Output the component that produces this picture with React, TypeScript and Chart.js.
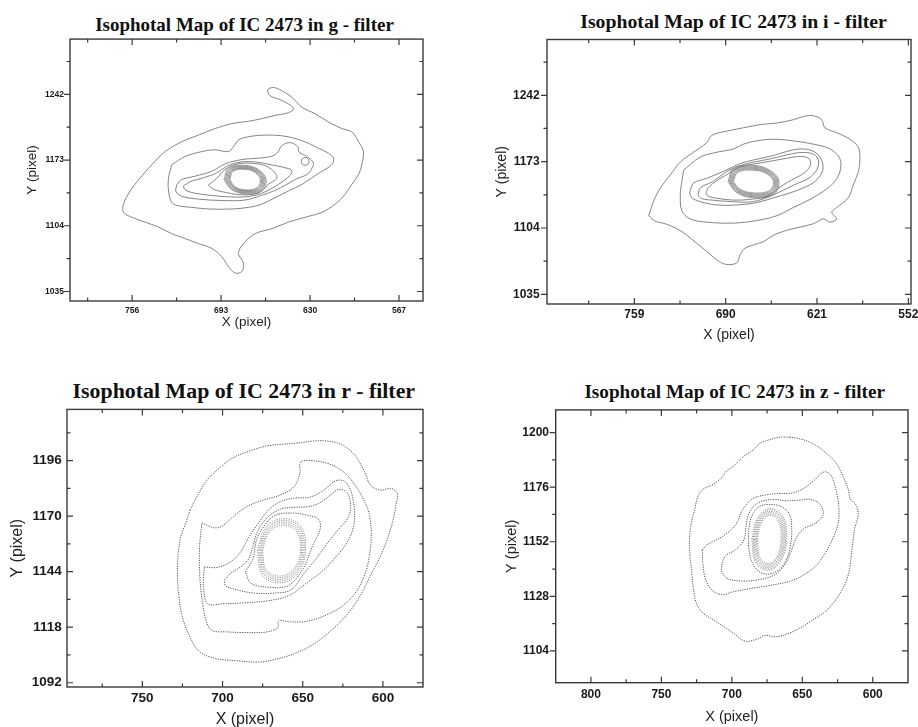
import React, { useEffect, useRef } from 'react';
import { Chart, registerables } from 'chart.js';

Chart.register(...registerables);

type Pt = [number, number];

// ================= g - filter =================
const G_X_TICKS = [756, 693, 630, 567];
const G_X_MINOR = [787.5, 724.5, 661.5, 598.5];
const G_Y_TICKS = [1035, 1104, 1173, 1242];
const G_Y_MINOR = [1069.5, 1138.5, 1207.5, 1276.5];
const G_X_RANGE = [550, 800];
const G_Y_RANGE = [1025, 1300];

const G_OUTER: Pt[] = [
  [664.2, 1216.4], [654.7, 1219.9], [645.3, 1222.7], [641.7, 1226.8], [645.3, 1232.0], [652.4, 1237.1],
  [658.3, 1240.6], [659.9, 1246.8], [655.9, 1249.2], [650.0, 1245.8], [642.9, 1238.9], [635.8, 1228.5],
  [626.4, 1221.6], [617.0, 1213.0], [607.5, 1206.1], [600.4, 1202.6], [595.7, 1192.3], [592.2, 1181.9],
  [593.4, 1168.1], [595.7, 1157.8], [600.4, 1147.4], [605.2, 1137.1], [612.2, 1126.7], [621.7, 1118.1],
  [633.5, 1112.9], [645.3, 1107.8], [657.1, 1100.9], [668.9, 1095.7], [677.1, 1085.3], [680.7, 1075.0],
  [677.1, 1064.6], [678.3, 1056.0], [683.0, 1054.3], [687.8, 1061.2], [692.5, 1071.5], [699.6, 1080.2],
  [709.0, 1085.3], [718.4, 1090.5], [727.9, 1095.7], [737.3, 1102.6], [746.8, 1107.8], [756.2, 1112.9],
  [762.1, 1118.1], [762.1, 1126.7], [757.4, 1140.5], [750.3, 1154.3], [742.0, 1168.1], [732.6, 1181.9],
  [720.8, 1192.3], [709.0, 1199.2], [697.2, 1206.1], [685.4, 1211.3], [673.6, 1213.7], [664.2, 1216.4],
];
const G_C2: Pt[] = [
  [727.9, 1168.1], [718.4, 1176.8], [706.6, 1181.9], [697.2, 1183.7], [687.8, 1181.9], [684.2, 1187.1],
  [680.7, 1194.0], [673.6, 1197.5], [661.8, 1199.2], [650.0, 1198.5], [640.6, 1195.7], [631.1, 1190.6],
  [624.0, 1185.4], [617.0, 1180.2], [613.4, 1175.0], [614.6, 1168.1], [621.7, 1161.2], [628.8, 1154.3],
  [635.8, 1147.4], [645.3, 1140.5], [654.7, 1133.6], [664.2, 1126.7], [673.6, 1123.3], [685.4, 1121.6],
  [701.9, 1121.6], [713.7, 1123.3], [723.2, 1125.0], [727.9, 1128.5], [730.2, 1140.5], [730.2, 1154.3],
  [727.9, 1168.1],
];
const G_C3: Pt[] = [
  [724.3, 1147.4], [720.8, 1152.6], [711.4, 1156.1], [699.6, 1161.2], [690.1, 1169.0], [678.3, 1173.5],
  [666.5, 1175.0], [657.1, 1177.0], [652.8, 1181.3], [650.0, 1188.2], [644.1, 1191.3], [638.7, 1187.1],
  [637.7, 1181.3], [632.3, 1176.8], [627.6, 1169.9], [628.8, 1164.0], [632.0, 1158.0], [640.0, 1153.0],
  [647.0, 1147.0], [655.0, 1141.0], [664.2, 1136.0], [676.0, 1131.0], [692.5, 1130.5], [709.0, 1132.0],
  [720.8, 1135.0], [725.0, 1140.0], [724.3, 1147.4],
];
const G_C4: Pt[] = [
  [719.7, 1145.7], [715.0, 1150.2], [705.5, 1154.4], [696.1, 1159.5], [689.0, 1166.4], [679.6, 1170.9],
  [667.8, 1170.9], [658.3, 1168.2], [648.9, 1165.4], [643.0, 1162.0], [644.0, 1157.0], [649.0, 1151.0],
  [655.0, 1145.0], [662.0, 1139.5], [668.0, 1136.2], [677.2, 1134.2], [689.0, 1134.5], [700.8, 1136.0],
  [712.6, 1138.5], [718.5, 1141.8], [719.7, 1145.7],
];
const G_C5: Pt[] = [
  [702.0, 1146.8], [696.1, 1153.7], [690.2, 1163.0], [681.9, 1168.8], [670.1, 1169.5], [660.7, 1166.4],
  [654.8, 1159.5], [653.6, 1153.7], [659.5, 1147.5], [666.5, 1138.5], [678.4, 1136.5], [689.0, 1138.8],
  [698.4, 1142.3], [702.0, 1146.8],
];
const G_KNOT: Pt[] = [
  [636.3, 1171.6], [635.5, 1174.5], [633.5, 1175.7], [631.5, 1174.5], [630.7, 1171.6], [631.5, 1168.7],
  [633.5, 1167.5], [635.5, 1168.7], [636.3, 1171.6],
];
const G_RING1: Pt[] = [[686.8, 1152.5], [684.6, 1161.1], [676, 1163.3], [668.7, 1159.8], [665.2, 1152.5], [667.5, 1144.0], [676, 1141.7], [683.3, 1145.2], [686.8, 1152.5]];
const G_RING2: Pt[] = [[687.6, 1152.5], [685.2, 1161.7], [676, 1164.1], [668.2, 1160.3], [664.4, 1152.5], [666.8, 1143.3], [676, 1140.9], [683.8, 1144.7], [687.6, 1152.5]];
const G_RING3: Pt[] = [[688.4, 1152.5], [685.8, 1162.3], [676, 1164.9], [667.7, 1160.8], [663.6, 1152.5], [666.2, 1142.7], [676, 1140.1], [684.3, 1144.2], [688.4, 1152.5]];
const G_RING4: Pt[] = [[689.2, 1152.5], [686.5, 1163.0], [676, 1165.7], [667.1, 1161.4], [662.8, 1152.5], [665.5, 1142.0], [676, 1139.3], [684.9, 1143.6], [689.2, 1152.5]];
const G_RING5: Pt[] = [[690.0, 1152.5], [687.1, 1163.6], [676, 1166.5], [666.6, 1161.9], [662.0, 1152.5], [664.9, 1141.4], [676, 1138.5], [685.4, 1143.1], [690.0, 1152.5]];
const G_RING6: Pt[] = [[690.9, 1152.5], [687.8, 1164.3], [676, 1167.4], [666.0, 1162.5], [661.1, 1152.5], [664.2, 1140.7], [676, 1137.6], [686.0, 1142.5], [690.9, 1152.5]];

// ================= i - filter =================
const I_X_TICKS = [759, 690, 621, 552];
const I_X_MINOR = [793.5, 724.5, 655.5, 586.5];
const I_Y_TICKS = [1035, 1104, 1173, 1242];
const I_Y_MINOR = [1069.5, 1138.5, 1207.5, 1276.5];
const I_X_RANGE = [550, 825];
const I_Y_RANGE = [1025, 1300];

const I_OUTER: Pt[] = [
  [748.2, 1116.8], [744.4, 1132.1], [739.4, 1145.6], [731.9, 1159.1], [724.3, 1172.6], [714.3, 1182.8],
  [704.2, 1192.9], [700.4, 1200.4], [689.1, 1204.8], [676.6, 1208.2], [664.0, 1211.5], [651.4, 1213.2],
  [638.9, 1216.6], [631.3, 1220.0], [623.8, 1220.7], [617.5, 1216.6], [615.0, 1208.2], [606.2, 1203.1],
  [596.1, 1196.3], [589.8, 1187.9], [588.6, 1176.0], [589.8, 1162.5], [593.6, 1149.0], [597.4, 1135.4],
  [606.2, 1125.3], [609.9, 1120.2], [606.2, 1113.5], [611.2, 1110.1], [616.2, 1113.5], [623.8, 1108.4],
  [633.8, 1105.0], [643.9, 1101.6], [653.9, 1096.5], [661.5, 1089.8], [669.0, 1086.4], [675.3, 1083.0],
  [679.1, 1076.3], [681.6, 1067.8], [689.1, 1066.1], [695.4, 1069.5], [702.9, 1078.0], [711.8, 1088.1],
  [719.3, 1096.5], [726.8, 1103.3], [735.6, 1108.4], [743.2, 1111.1], [748.2, 1116.8],
];
const I_C2: Pt[] = [
  [721.8, 1164.2], [709.3, 1177.7], [696.7, 1182.8], [684.1, 1186.2], [676.6, 1191.2], [666.5, 1194.6],
  [654.0, 1196.3], [638.9, 1194.6], [623.8, 1191.2], [611.2, 1186.2], [603.7, 1176.0], [603.7, 1162.5],
  [608.7, 1150.7], [616.2, 1142.2], [626.3, 1133.7], [638.9, 1125.3], [651.4, 1116.8], [666.5, 1111.8],
  [684.1, 1109.1], [704.2, 1110.1], [716.8, 1113.5], [723.1, 1121.9], [724.3, 1138.8], [723.1, 1152.3],
  [721.8, 1164.2],
];
const I_C3: Pt[] = [
  [717.3, 1140.5], [714.3, 1150.7], [704.2, 1155.7], [689.1, 1164.5], [679.1, 1171.0], [666.5, 1175.5],
  [654.0, 1179.4], [641.4, 1184.5], [631.3, 1186.2], [622.5, 1182.8], [617.5, 1174.3], [616.7, 1164.2],
  [621.3, 1154.0], [628.8, 1147.3], [641.4, 1140.5], [654.0, 1135.4], [666.5, 1130.4], [681.6, 1128.0],
  [696.7, 1128.0], [709.3, 1131.4], [715.5, 1135.4], [717.3, 1140.5],
];
const I_C4: Pt[] = [
  [711, 1138], [709, 1146], [700, 1152], [690, 1162], [680, 1168.5], [669, 1172.5], [656, 1176], [644, 1180],
  [633, 1182.5], [624, 1181], [620, 1175], [621, 1165], [627, 1156], [638, 1149], [650, 1141], [661, 1134.5],
  [672, 1131], [686, 1131.5], [700, 1133], [708, 1134.5], [711, 1138],
];
const I_C5: Pt[] = [
  [705, 1140], [703, 1146], [697, 1153], [688, 1160.5], [679, 1167.5], [669, 1170.5], [656, 1173.5],
  [644, 1176.5], [633, 1178.5], [627, 1176], [626, 1169], [631, 1161], [640, 1154], [648, 1147.5],
  [658, 1137.5], [670, 1134], [684, 1133], [697, 1135], [703, 1137], [705, 1140],
];
const I_RING1: Pt[] = [[684.2, 1152.3], [681.0, 1161.7], [669, 1164.1], [658.8, 1160.2], [653.8, 1152.3], [657.0, 1143.0], [669, 1140.5], [679.2, 1144.4], [684.2, 1152.3]];
const I_RING2: Pt[] = [[685.0, 1152.3], [681.7, 1162.4], [669, 1165.1], [658.3, 1160.9], [653.0, 1152.3], [656.3, 1142.2], [669, 1139.5], [679.8, 1143.7], [685.0, 1152.3]];
const I_RING3: Pt[] = [[685.8, 1152.3], [682.3, 1163.2], [669, 1166.1], [657.7, 1161.6], [652.2, 1152.3], [655.7, 1141.4], [669, 1138.5], [680.3, 1143.0], [685.8, 1152.3]];
const I_RING4: Pt[] = [[686.6, 1152.3], [682.9, 1164.0], [669, 1167.1], [657.2, 1162.3], [651.4, 1152.3], [655.1, 1140.6], [669, 1137.5], [680.8, 1142.4], [686.6, 1152.3]];
const I_RING5: Pt[] = [[687.4, 1152.3], [683.6, 1164.8], [669, 1168.1], [656.6, 1162.9], [650.6, 1152.3], [654.4, 1139.8], [669, 1136.5], [681.4, 1141.7], [687.4, 1152.3]];
const I_RING6: Pt[] = [[688.2, 1152.3], [684.2, 1165.6], [669, 1169.1], [656.1, 1163.6], [649.8, 1152.3], [653.8, 1139.0], [669, 1135.5], [681.9, 1141.0], [688.2, 1152.3]];

// ================= r - filter =================
const R_X_TICKS = [750, 700, 650, 600];
const R_X_MINOR = [775, 725, 675, 625];
const R_Y_TICKS = [1092, 1118, 1144, 1170, 1196];
const R_Y_MINOR = [1105, 1131, 1157, 1183, 1209];
const R_X_RANGE = [575, 797];
const R_Y_RANGE = [1090, 1220];

const R_OUTER: Pt[] = [
  [720.2, 1173.0], [722.2, 1168.4], [726.4, 1159.2], [728.1, 1146.9], [727.5, 1134.6], [725.4, 1123.9],
  [720.2, 1113.2], [713.9, 1106.3], [703.5, 1103.2], [693.1, 1102.4], [676.4, 1101.7], [666.0, 1103.2],
  [655.6, 1105.5], [643.1, 1110.1], [632.7, 1116.2], [622.3, 1123.9], [613.9, 1133.1], [607.7, 1142.3],
  [601.4, 1151.5], [597.3, 1159.2], [594.1, 1166.9], [592.1, 1174.5], [591.0, 1180.7], [595.2, 1183.0],
  [601.4, 1182.2], [607.7, 1184.5], [611.8, 1191.4], [618.1, 1199.1], [626.4, 1203.7], [634.8, 1205.2],
  [643.1, 1205.2], [651.4, 1204.4], [661.8, 1203.7], [672.3, 1202.9], [682.7, 1200.6], [693.1, 1197.5],
  [701.4, 1192.9], [709.8, 1186.8], [716.0, 1179.1], [720.2, 1173.0],
];
const R_C2: Pt[] = [
  [712.9, 1166.9], [705.6, 1164.6], [700.4, 1165.3], [693.1, 1169.9], [684.8, 1174.5], [674.3, 1177.6],
  [663.9, 1179.9], [655.6, 1183.7], [651.8, 1189.9], [651.4, 1195.2], [645.2, 1196.0], [633.7, 1194.5],
  [624.3, 1190.6], [618.1, 1185.3], [612.9, 1179.1], [608.7, 1171.5], [607.3, 1162.3], [608.1, 1153.1],
  [610.8, 1143.8], [616.0, 1135.4], [624.3, 1128.5], [634.8, 1123.9], [647.3, 1120.8], [657.7, 1120.5],
  [665.0, 1121.1], [665.6, 1117.8], [672.3, 1115.8], [684.8, 1115.5], [697.3, 1115.8], [706.6, 1116.5],
  [710.2, 1120.8], [712.9, 1131.6], [714.3, 1143.8], [714.3, 1156.1], [712.9, 1166.9],
];
const R_C3: Pt[] = [
  [711.4, 1146.2], [703.5, 1146.0], [695.2, 1148.5], [688.9, 1153.1], [683.7, 1160.0], [677.5, 1166.9],
  [671.2, 1173.0], [663.9, 1176.8], [655.6, 1178.4], [646.2, 1178.8], [640.0, 1180.7], [634.8, 1183.5],
  [629.6, 1186.5], [624.3, 1186.5], [621.0, 1183.5], [619.2, 1179.9], [617.7, 1172.2], [618.5, 1164.6],
  [622.3, 1157.7], [629.6, 1150.7], [637.9, 1144.2], [647.3, 1138.9], [658.1, 1133.0], [670.6, 1130.5],
  [684.8, 1129.5], [698.9, 1129.0], [709.3, 1129.0], [711.8, 1136.2], [711.8, 1141.6], [711.4, 1146.2],
];
const R_C4: Pt[] = [
  [698.9, 1140.0], [695.2, 1143.1], [688.9, 1146.2], [683.7, 1150.0], [681.0, 1156.1], [678.1, 1163.0],
  [672.3, 1169.2], [663.9, 1173.3], [654.6, 1174.2], [646.2, 1174.5], [638.9, 1176.4], [632.7, 1179.9],
  [627.5, 1182.5], [622.3, 1181.0], [620.2, 1175.3], [621.8, 1169.2], [628.1, 1163.5], [635.2, 1156.9],
  [642.0, 1149.7], [648.9, 1143.5], [657.3, 1135.5], [667.7, 1134.0], [680.6, 1134.0], [693.1, 1135.9],
  [698.1, 1137.4], [698.9, 1140.0],
];
const R_C5: Pt[] = [
  [685.8, 1143.9], [681.0, 1150.0], [679.0, 1158.5], [674.5, 1165.0], [667.7, 1170.2], [657.3, 1171.5],
  [647.3, 1170.5], [640.0, 1168.4], [639.3, 1163.5], [643.9, 1156.1], [647.7, 1148.5], [652.5, 1142.3],
  [659.8, 1137.2], [672.3, 1136.8], [682.3, 1138.6], [685.8, 1143.9],
];
const R_RING1: Pt[] = [[675.1, 1153.8], [671.4, 1161.9], [663.3, 1165.6], [654.1, 1163.0], [651.5, 1153.8], [655.2, 1145.7], [663.3, 1142.0], [672.5, 1144.6], [675.1, 1153.8]];
const R_RING2: Pt[] = [[675.9, 1153.8], [671.9, 1162.4], [663.3, 1166.4], [653.5, 1163.6], [650.7, 1153.8], [654.7, 1145.2], [663.3, 1141.2], [673.1, 1144.0], [675.9, 1153.8]];
const R_RING3: Pt[] = [[676.7, 1153.8], [672.5, 1163.0], [663.3, 1167.2], [652.9, 1164.2], [649.9, 1153.8], [654.1, 1144.6], [663.3, 1140.4], [673.7, 1143.4], [676.7, 1153.8]];
const R_RING4: Pt[] = [[677.5, 1153.8], [673.0, 1163.5], [663.3, 1168.0], [652.3, 1164.9], [649.1, 1153.8], [653.6, 1144.1], [663.3, 1139.6], [674.4, 1142.8], [677.5, 1153.8]];
const R_RING5: Pt[] = [[678.3, 1153.8], [673.6, 1164.1], [663.3, 1168.8], [651.6, 1165.5], [648.3, 1153.8], [653.0, 1143.5], [663.3, 1138.8], [675.0, 1142.1], [678.3, 1153.8]];

// ================= z - filter =================
const Z_X_TICKS = [800, 750, 700, 650, 600];
const Z_X_MINOR = [775, 725, 675, 625];
const Z_Y_TICKS = [1104, 1128, 1152, 1176, 1200];
const Z_Y_MINOR = [1116, 1140, 1164, 1188];
const Z_X_RANGE = [575, 825];
const Z_Y_RANGE = [1090, 1210];

const Z_OUTER: Pt[] = [
  [658.9, 1198.0], [666.0, 1198.0], [673.1, 1196.9], [680.2, 1195.2], [684.9, 1192.3], [692.0, 1189.4],
  [699.1, 1185.1], [703.8, 1183.0], [708.5, 1179.4], [713.3, 1177.2], [720.4, 1175.1], [723.9, 1172.2],
  [726.3, 1166.5], [728.6, 1160.7], [729.8, 1155.0], [729.8, 1146.4], [728.6, 1139.2], [727.4, 1132.0],
  [725.1, 1124.8], [720.4, 1120.5], [713.3, 1117.7], [706.2, 1114.8], [699.1, 1111.9], [690.8, 1108.3],
  [682.5, 1109.1], [676.6, 1110.8], [668.3, 1110.2], [658.9, 1111.9], [649.4, 1114.8], [642.3, 1117.7],
  [635.2, 1120.5], [629.3, 1124.1], [623.4, 1129.1], [618.7, 1134.9], [616.3, 1140.6], [615.2, 1146.4],
  [614.0, 1152.1], [612.8, 1157.8], [610.4, 1163.6], [611.6, 1167.9], [615.9, 1170.8], [617.5, 1175.1],
  [621.1, 1180.8], [625.9, 1186.5], [632.9, 1190.9], [642.5, 1195.2], [651.8, 1197.3], [658.9, 1198.0],
];
const Z_C2: Pt[] = [
  [721.0, 1148.5], [717.5, 1150.7], [706.8, 1154.3], [697.4, 1159.3], [692.7, 1165.7], [685.6, 1170.8],
  [676.1, 1172.6], [666.7, 1173.2], [657.2, 1173.5], [648.9, 1175.5], [641.8, 1178.9], [634.7, 1182.7],
  [630.0, 1181.5], [626.5, 1175.8], [624.1, 1167.2], [624.6, 1160.0], [628.8, 1152.8], [633.6, 1147.1],
  [640.6, 1141.3], [650.1, 1137.0], [659.6, 1134.5], [673.8, 1132.7], [688.0, 1131.3], [699.7, 1129.9],
  [706.8, 1128.7], [714.0, 1130.6], [718.7, 1135.6], [720.6, 1142.8], [721.0, 1148.5],
];
const Z_C3: Pt[] = [
  [706.8, 1142.8], [704.5, 1145.9], [697.4, 1148.5], [691.5, 1152.8], [689.8, 1159.3], [688.0, 1164.3],
  [682.0, 1168.9], [671.4, 1170.6], [660.7, 1170.0], [652.5, 1170.3], [644.2, 1170.6], [637.1, 1168.3],
  [635.4, 1163.6], [641.8, 1159.7], [648.9, 1157.8], [654.4, 1153.5], [658.4, 1147.1], [663.1, 1141.3],
  [670.2, 1137.3], [680.8, 1135.3], [692.7, 1134.7], [703.3, 1135.9], [707.3, 1139.2], [706.8, 1142.8],
];
const Z_C4: Pt[] = [
  [688.2, 1150.0], [688.0, 1157.0], [686.0, 1163.0], [681.0, 1167.3], [673.5, 1168.4], [665.0, 1167.5],
  [659.0, 1164.0], [657.5, 1157.0], [658.5, 1150.0], [661.0, 1144.5], [666.0, 1140.0], [673.5, 1137.8],
  [681.0, 1139.0], [686.0, 1143.5], [688.2, 1150.0],
];
const Z_RING1: Pt[] = [[681.9, 1153], [679.2, 1160.2], [673.5, 1163.6], [667.1, 1161.1], [665.1, 1153], [667.8, 1145.8], [673.5, 1142.4], [679.9, 1144.9], [681.9, 1153]];
const Z_RING2: Pt[] = [[682.7, 1153], [679.8, 1160.6], [673.5, 1164.2], [666.5, 1161.6], [664.3, 1153], [667.3, 1145.4], [673.5, 1141.8], [680.5, 1144.4], [682.7, 1153]];
const Z_RING3: Pt[] = [[683.5, 1153], [680.3, 1161.0], [673.5, 1164.8], [665.9, 1162.0], [663.5, 1153], [666.7, 1145.0], [673.5, 1141.2], [681.1, 1144.0], [683.5, 1153]];
const Z_RING4: Pt[] = [[684.3, 1153], [680.8, 1161.4], [673.5, 1165.4], [665.3, 1162.5], [662.7, 1153], [666.2, 1144.6], [673.5, 1140.6], [681.8, 1143.5], [684.3, 1153]];
const Z_RING5: Pt[] = [[685.1, 1153], [681.4, 1161.8], [673.5, 1166.0], [664.6, 1162.9], [661.9, 1153], [665.6, 1144.2], [673.5, 1140.0], [682.4, 1143.1], [685.1, 1153]];
const Z_RING6: Pt[] = [[685.9, 1153], [681.9, 1162.2], [673.5, 1166.6], [664.0, 1163.4], [661.1, 1153], [665.1, 1143.8], [673.5, 1139.4], [683.0, 1142.6], [685.9, 1153]];

// ================= layout / style =================
interface PanelSpec {
  title: string;
  contours: Pt[][];
  rings: Pt[][];
  xTicks: number[]; xMinor: number[]; yTicks: number[]; yMinor: number[];
  xRange: number[]; yRange: number[];
  plot: { l: number; t: number; r: number; b: number };
  titleCX: number; titleCapCY: number; titleSize: number;
  tickSize: number; axisTitleSize: number;
  yTitleCX: number; xTitleCY: number;
  yLabelGap: number; xLabelPad: number;
  leftTickOut: boolean;
  dotted: boolean;
}

const PANELS: PanelSpec[] = [
  {
    title: 'Isophotal Map of IC 2473 in g - filter',
    contours: [G_OUTER, G_C2, G_C3, G_C4, G_C5, G_KNOT],
    rings: [G_RING1, G_RING2, G_RING3, G_RING4, G_RING5, G_RING6],
    xTicks: G_X_TICKS, xMinor: G_X_MINOR, yTicks: G_Y_TICKS, yMinor: G_Y_MINOR,
    xRange: G_X_RANGE, yRange: G_Y_RANGE,
    plot: { l: 70, t: 36, r: 423, b: 301 },
    titleCX: 244.5, titleCapCY: 24.2, titleSize: 19,
    tickSize: 8.5, axisTitleSize: 13.5,
    yTitleCX: 32.5, xTitleCY: 322.5,
    yLabelGap: 6, xLabelPad: 4.6,
    leftTickOut: true, dotted: false,
  },
  {
    title: 'Isophotal Map of IC 2473 in i - filter',
    contours: [I_OUTER, I_C2, I_C3, I_C4, I_C5],
    rings: [I_RING1, I_RING2, I_RING3, I_RING4, I_RING5, I_RING6],
    xTicks: I_X_TICKS, xMinor: I_X_MINOR, yTicks: I_Y_TICKS, yMinor: I_Y_MINOR,
    xRange: I_X_RANGE, yRange: I_Y_RANGE,
    plot: { l: 547, t: 33, r: 911, b: 304 },
    titleCX: 733.5, titleCapCY: 21.7, titleSize: 19.8,
    tickSize: 12, axisTitleSize: 14,
    yTitleCX: 502.3, xTitleCY: 335,
    yLabelGap: 7.3, xLabelPad: 3.1,
    leftTickOut: true, dotted: false,
  },
  {
    title: 'Isophotal Map of IC 2473 in r - filter',
    contours: [R_OUTER, R_C2, R_C3, R_C4, R_C5],
    rings: [R_RING1, R_RING2, R_RING3, R_RING4, R_RING5],
    xTicks: R_X_TICKS, xMinor: R_X_MINOR, yTicks: R_Y_TICKS, yMinor: R_Y_MINOR,
    xRange: R_X_RANGE, yRange: R_Y_RANGE,
    plot: { l: 67, t: 404, r: 423, b: 687 },
    titleCX: 243.8, titleCapCY: 391.3, titleSize: 21.9,
    tickSize: 13.5, axisTitleSize: 16,
    yTitleCX: 17.5, xTitleCY: 720,
    yLabelGap: 5.3, xLabelPad: 3.2,
    leftTickOut: false, dotted: true,
  },
  {
    title: 'Isophotal Map of IC 2473 in z - filter',
    contours: [Z_OUTER, Z_C2, Z_C3, Z_C4],
    rings: [Z_RING1, Z_RING2, Z_RING3, Z_RING4, Z_RING5, Z_RING6],
    xTicks: Z_X_TICKS, xMinor: Z_X_MINOR, yTicks: Z_Y_TICKS, yMinor: Z_Y_MINOR,
    xRange: Z_X_RANGE, yRange: Z_Y_RANGE,
    plot: { l: 555.7, t: 404, r: 908, b: 682.7 },
    titleCX: 734.7, titleCapCY: 391.3, titleSize: 19.2,
    tickSize: 12, axisTitleSize: 14.5,
    yTitleCX: 512, xTitleCY: 716.5,
    yLabelGap: 6.7, xLabelPad: 4.4,
    leftTickOut: true, dotted: true,
  },
];

const SANS = '"Liberation Sans", Arial, Helvetica, sans-serif';
const SERIF = '"Liberation Serif", "Times New Roman", Times, serif';

function Panel({ spec }: { spec: PanelSpec }) {
  const ref = useRef<HTMLCanvasElement>(null);
  const L = Math.floor(spec.yTitleCX - spec.axisTitleSize / 2 - 2);
  const T = Math.floor(spec.plot.t - 8);
  const R = Math.ceil(spec.plot.r + 16);
  const B = Math.ceil(spec.xTitleCY + spec.axisTitleSize / 2 + 2);
  const W = R - L;
  const H = B - T;

  useEffect(() => {
    const canvas = ref.current;
    if (!canvas) return;
    const yTitlePad = spec.yTitleCX - L - spec.axisTitleSize / 2;
    const xTitlePad = B - spec.xTitleCY - spec.axisTitleSize / 2;
    const yAxisWidth = spec.plot.l - L;
    const xAxisHeight = B - spec.plot.b;

    const frame = {
      id: 'frame',
      afterDatasetsDraw(chart: any) {
        const { ctx, chartArea } = chart;
        const xs = chart.scales.x;
        const ys = chart.scales.y;
        const { left, right, top, bottom } = chartArea;
        ctx.save();
        ctx.strokeStyle = '#3a3a3a';
        ctx.lineWidth = 1.4;
        ctx.strokeRect(left, top, right - left, bottom - top);
        ctx.lineWidth = 1.2;
        const major = 6;
        const minor = 3.5;
        const tickX = (v: number, len: number) => {
          const p = xs.getPixelForValue(v);
          if (p < left + 1 || p > right - 1) return;
          ctx.moveTo(p, bottom); ctx.lineTo(p, bottom - len);
          ctx.moveTo(p, top); ctx.lineTo(p, top + len);
        };
        const tickY = (v: number, len: number) => {
          const p = ys.getPixelForValue(v);
          if (p < top + 1 || p > bottom - 1) return;
          if (spec.leftTickOut) { ctx.moveTo(left, p); ctx.lineTo(left - len, p); }
          else { ctx.moveTo(left, p); ctx.lineTo(left + len, p); }
          ctx.moveTo(right, p); ctx.lineTo(right - len, p);
        };
        ctx.beginPath();
        spec.xTicks.forEach((v) => tickX(v, major));
        spec.xMinor.forEach((v) => tickX(v, minor));
        spec.yTicks.forEach((v) => tickY(v, major));
        spec.yMinor.forEach((v) => tickY(v, minor));
        ctx.stroke();
        ctx.restore();
      },
    };

    const tickFont = { family: SANS, size: spec.tickSize, weight: 'bold' as const };
    const titleFont = { family: SANS, size: spec.axisTitleSize, lineHeight: 1 };

    const lineSet = (c: Pt[], ring: boolean) => ({
      data: c.map(([x, y]) => ({ x, y })),
      showLine: true,
      fill: false,
      pointRadius: 0,
      pointHoverRadius: 0,
      borderColor: ring ? '#6f6f6f' : spec.dotted ? '#555555' : '#777777',
      borderWidth: ring ? 0.7 : spec.dotted ? 1 : 0.9,
      borderDash: spec.dotted ? [1.2, 1.2] : [],
      tension: ring ? 0.4 : 0.35,
    });

    const chart = new Chart(canvas, {
      type: 'scatter',
      data: {
        datasets: [
          ...spec.contours.map((c) => lineSet(c, false)),
          ...spec.rings.map((c) => lineSet(c, true)),
        ],
      },
      options: {
        responsive: false,
        animation: false,
        devicePixelRatio: 1,
        events: [],
        layout: { padding: { left: 0, top: spec.plot.t - T, right: R - spec.plot.r, bottom: 0 } },
        plugins: {
          legend: { display: false },
          tooltip: { enabled: false },
          title: { display: false },
        },
        scales: {
          x: {
            type: 'linear',
            position: 'bottom',
            reverse: true,
            min: spec.xRange[0],
            max: spec.xRange[1],
            grid: { display: false, drawTicks: false },
            border: { display: false },
            ticks: {
              font: tickFont,
              color: '#1a1a1a',
              padding: spec.xLabelPad,
              maxRotation: 0,
              autoSkip: false,
              callback: (v: any) => String(v),
            },
            afterBuildTicks: (axis: any) => {
              axis.ticks = spec.xTicks.map((v) => ({ value: v }));
            },
            afterFit: (axis: any) => {
              axis.height = xAxisHeight;
            },
            title: {
              display: true,
              text: 'X (pixel)',
              font: titleFont,
              color: '#222',
              padding: { top: 0, bottom: xTitlePad },
            },
          },
          y: {
            type: 'linear',
            position: 'left',
            min: spec.yRange[0],
            max: spec.yRange[1],
            grid: { display: false, drawTicks: false },
            border: { display: false },
            ticks: {
              font: tickFont,
              color: '#1a1a1a',
              padding: spec.yLabelGap,
              autoSkip: false,
              callback: (v: any) => String(v),
            },
            afterBuildTicks: (axis: any) => {
              axis.ticks = spec.yTicks.map((v) => ({ value: v }));
            },
            afterFit: (axis: any) => {
              axis.width = yAxisWidth;
            },
            title: {
              display: true,
              text: 'Y (pixel)',
              font: titleFont,
              color: '#222',
              padding: { top: yTitlePad, bottom: 0 },
            },
          },
        },
      } as any,
      plugins: [frame],
    });
    return () => chart.destroy();
  }, []);

  return (
    <>
      <div
        style={{
          position: 'absolute',
          left: spec.titleCX - 250,
          width: 500,
          top: spec.titleCapCY - 0.505 * spec.titleSize,
          textAlign: 'center',
          fontFamily: SERIF,
          fontWeight: 'bold',
          fontSize: spec.titleSize,
          lineHeight: `${spec.titleSize}px`,
          color: '#111',
          whiteSpace: 'nowrap',
        }}
      >
        {spec.title}
      </div>
      <canvas
        ref={ref}
        width={W}
        height={H}
        style={{ position: 'absolute', left: L, top: T, width: W, height: H }}
      />
    </>
  );
}

export default function App() {
  return (
    <div
      style={{
        position: 'fixed',
        left: 0,
        top: 0,
        width: 918,
        height: 727,
        overflow: 'hidden',
        background: '#ffffff',
      }}
    >
      {PANELS.map((p, i) => (
        <Panel key={i} spec={p} />
      ))}
    </div>
  );
}
